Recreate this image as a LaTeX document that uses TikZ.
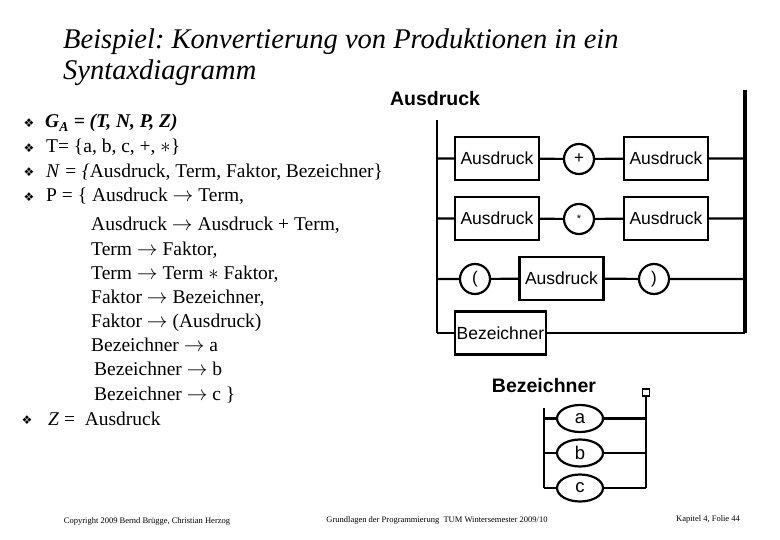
\documentclass[tikz,border=0pt]{standalone}
\usepackage{fontspec}
\setmainfont{Liberation Serif}
\setsansfont{Liberation Sans}
\newfontfamily\dingfont{DejaVu Sans}
\usetikzlibrary{shapes.geometric}
\frenchspacing

\begin{document}
\begin{tikzpicture}[
  x=1pt, y=-1pt,
  rail/.style={line width=2.2pt},
  endrail/.style={line width=4pt},
  nonterm/.style={draw, line width=2.2pt, inner sep=0pt,
    minimum width=84pt, minimum height=43pt,
    font=\sffamily\fontsize{17.5}{20}\selectfont},
  term/.style={draw, circle, line width=2.2pt, inner sep=0pt,
    minimum size=30pt, font=\sffamily\fontsize{17}{20}\selectfont},
  letter/.style={draw, ellipse, line width=2.2pt, inner sep=0pt,
    minimum width=46pt, minimum height=27pt,
    font=\sffamily\fontsize{18.5}{20}\selectfont},
  diagname/.style={inner sep=0pt, font=\sffamily\bfseries\fontsize{19.5}{22}\selectfont},
  bullet/.style={inner sep=0pt, font=\dingfont\fontsize{12}{14}\selectfont},
  rule/.style={anchor=base west, inner sep=0pt, font=\fontsize{19.5}{22}\selectfont},
  headline/.style={anchor=base west, inner sep=0pt, font=\itshape\fontsize{28.5}{32}\selectfont},
  footer/.style={inner sep=0pt, font=\fontsize{8.5}{10}\selectfont}
  ]

\useasboundingbox (0,0) rectangle (780,540);

\node[headline] (title1) at (63,49) {Beispiel: Konvertierung von Produktionen in ein};
\node[headline] (title2) at (63,80) {Syntaxdiagramm};

\node[bullet] (b1) at (29,123) {❖};
\node[bullet] (b2) at (29,148) {❖};
\node[bullet] (b3) at (29,172.5) {❖};
\node[bullet] (b4) at (29,197) {❖};
\node[bullet] (b5) at (27,420) {❖};

\node[rule] (gram) at (45,128) {\textbf{\textit{G\textsubscript{A} = (T, N, P, Z)}}};
\node[rule] (tset) at (46,153) {T= \{a, b, c, +, $\ast$\}};
\node[rule] (nset) at (46,177.5) {\textit{N = \{}Ausdruck, Term, Faktor, Bezeichner\}};
\node[rule] (pset) at (46,202) {P = \{ Ausdruck $\rightarrow$ Term,};
\node[rule] (p2) at (91,231) {Ausdruck $\rightarrow$ Ausdruck + Term,};
\node[rule] (p3) at (91,255.5) {Term $\rightarrow$ Faktor,};
\node[rule] (p4) at (91,279.5) {Term $\rightarrow$ Term $\ast$ Faktor,};
\node[rule] (p5) at (91,303.5) {Faktor $\rightarrow$ Bezeichner,};
\node[rule] (p6) at (91,327.5) {Faktor $\rightarrow$ (Ausdruck)};
\node[rule] (p7) at (91,352) {Bezeichner $\rightarrow$ a};
\node[rule] (p8) at (94,376) {Bezeichner $\rightarrow$ b};
\node[rule] (p9) at (94,400) {Bezeichner $\rightarrow$ c \}};
\node[rule] (start) at (48,425) {\textit{Z} = \ Ausdruck};

\node[diagname] (ausname) at (435,99) {Ausdruck};

\coordinate (ltop) at (437,120);
\coordinate (lbot) at (437,333);
\coordinate (rtop) at (745,90);
\coordinate (rbot) at (745,333);

\node[nonterm] (a1) at (497,158.5) {Ausdruck};
\node[term] (plus) at (579,159) {+};
\node[nonterm] (a2) at (666,158.5) {Ausdruck};

\node[nonterm] (a3) at (497,218.5) {Ausdruck};
\node[term] (times) at (579,219) {\fontsize{11}{12}\selectfont\vphantom{A}*};
\node[nonterm] (a4) at (666,218.5) {Ausdruck};

\node[term] (lpar) at (475,279) {(};
\node[nonterm] (a5) at (561.5,278.5) {Ausdruck};
\node[term] (rpar) at (654,279) {)};

\node[nonterm, minimum width=91pt] (bez) at (500.5,333) {Bezeichner};

\draw[rail] (ltop) -- (lbot);
\draw[endrail] (rtop) -- (rbot);
\draw[rail] (ltop |- a1) -- (a1) -- (plus) -- (a2) -- (rtop |- a2);
\draw[rail] (ltop |- a3) -- (a3) -- (times) -- (a4) -- (rtop |- a4);
\draw[rail] (ltop |- lpar) -- (lpar) -- (a5) -- (rpar) -- (rtop |- rpar);
\draw[rail] (lbot) -- (bez) -- (rbot);

\node[diagname] (bezname) at (544,386) {Bezeichner};
\node[draw, line width=1.6pt, inner sep=0pt, minimum size=7pt] (stop) at (646,392.5) {};

\coordinate (bltop) at (544,408);
\coordinate (blbot) at (544,488);
\coordinate (brbot) at (646,488);

\node[letter] (la) at (580,418.5) {a};
\node[letter] (lb) at (580,453) {b};
\node[letter] (lc) at (580,488) {c};

\draw[rail] (bltop) -- (blbot);
\draw[rail] (stop) -- (brbot);
\draw[rail] (bltop |- la) -- (la) -- (brbot |- la);
\draw[rail] (bltop |- lb) -- (lb) -- (brbot |- lb);
\draw[rail] (blbot) -- (lc) -- (brbot);

\node[footer] (copy) at (147,521) {Copyright 2009 Bernd Brügge, Christian Herzog};
\node[footer] (course) at (437,520) {Grundlagen der Programmierung \ TUM Wintersemester 2009/10};
\node[footer] (page) at (708,519) {Kapitel 4, Folie 44};

\end{tikzpicture}
\end{document}
